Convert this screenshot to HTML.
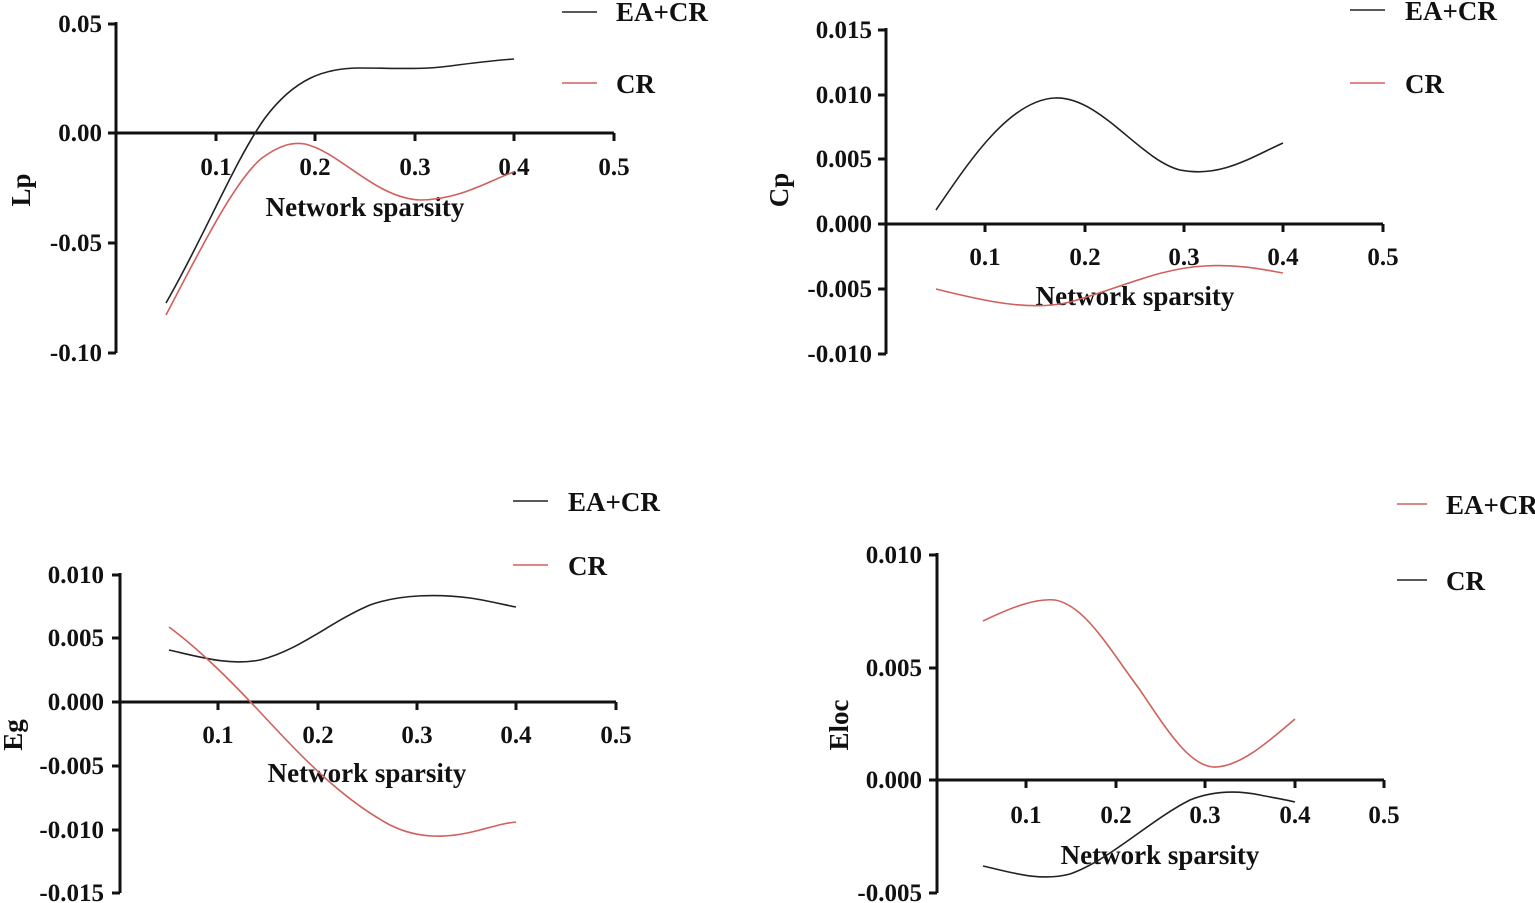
<!DOCTYPE html>
<html><head><meta charset="utf-8"><style>
html,body{margin:0;padding:0;background:#fff}
svg{display:block}
text{font-family:"Liberation Serif",serif;font-weight:bold;fill:#111}
.t{font-size:25px}
.n{font-size:27px}
.lg{font-size:27px}
.ax{stroke:#111;stroke-width:3;fill:none}
.k{stroke:#222;stroke-width:1.6;fill:none}
.r{stroke:#d0605c;stroke-width:1.6;fill:none}
</style></head><body>
<svg width="1535" height="903" viewBox="0 0 1535 903">
<!-- Panel 1 -->
<path class="ax" d="M116 22V353M108 24H116M108 133H116M108 243H116M108 353H116M116 133H614M216 133v8M315 133v8M415 133v8M514 133v8M614 133v8"/>
<g class="t" text-anchor="end"><text x="102" y="32">0.05</text><text x="102" y="141">0.00</text><text x="102" y="251">-0.05</text><text x="102" y="361">-0.10</text></g>
<g class="t" text-anchor="middle"><text x="216" y="175">0.1</text><text x="315" y="175">0.2</text><text x="415" y="175">0.3</text><text x="514" y="175">0.4</text><text x="614" y="175">0.5</text>
<text x="365" y="216" class="n">Network sparsity</text></g>
<text x="30" y="190" class="n" transform="rotate(-90 30 190)" text-anchor="middle">Lp</text>
<path class="k" d="M166 303C205 235 235 160 265 118C295 78 325 68 360 68C395 68 420 70 450 66C480 62 500 60 514 59"/>
<path class="r" d="M166 315C200 250 235 180 262 158C280 145 292 142 305 144C340 152 375 198 420 200C460 200 490 180 514 172"/>
<path class="k" d="M562 12H597"/><text x="616" y="21" class="lg">EA+CR</text>
<path class="r" d="M562 83H597"/><text x="616" y="93" class="lg">CR</text>
<!-- Panel 2 -->
<path class="ax" d="M886 28V354M878 30H886M878 95H886M878 159H886M878 224H886M878 289H886M878 354H886M886 224H1383M985 224v8M1085 224v8M1184 224v8M1283 224v8M1383 224v8"/>
<g class="t" text-anchor="end"><text x="872" y="38">0.015</text><text x="872" y="103">0.010</text><text x="872" y="167">0.005</text><text x="872" y="232">0.000</text><text x="872" y="297">-0.005</text><text x="872" y="362">-0.010</text></g>
<g class="t" text-anchor="middle"><text x="985" y="265">0.1</text><text x="1085" y="265">0.2</text><text x="1184" y="265">0.3</text><text x="1283" y="265">0.4</text><text x="1383" y="265">0.5</text>
<text x="1135" y="305" class="n">Network sparsity</text></g>
<text x="788" y="190" class="n" transform="rotate(-90 788 190)" text-anchor="middle">Cp</text>
<path class="k" d="M936 210C970 160 1010 100 1055 98C1100 96 1140 160 1180 170C1220 178 1250 158 1283 143"/>
<path class="r" d="M936 289C980 300 1030 312 1070 302C1120 288 1160 268 1205 266C1240 264 1265 270 1283 273"/>
<path class="k" d="M1350 10H1385"/><text x="1405" y="20" class="lg">EA+CR</text>
<path class="r" d="M1350 83H1385"/><text x="1405" y="93" class="lg">CR</text>
<!-- Panel 3 -->
<path class="ax" d="M120 573V893M112 575H120M112 638H120M112 702H120M112 766H120M112 830H120M112 893H120M120 702H616M218 702v8M318 702v8M417 702v8M516 702v8M616 702v8"/>
<g class="t" text-anchor="end"><text x="104" y="583">0.010</text><text x="104" y="646">0.005</text><text x="104" y="710">0.000</text><text x="104" y="774">-0.005</text><text x="104" y="838">-0.010</text><text x="104" y="901">-0.015</text></g>
<g class="t" text-anchor="middle"><text x="218" y="743">0.1</text><text x="318" y="743">0.2</text><text x="417" y="743">0.3</text><text x="516" y="743">0.4</text><text x="616" y="743">0.5</text>
<text x="367" y="782" class="n">Network sparsity</text></g>
<text x="22" y="735" class="n" transform="rotate(-90 22 735)" text-anchor="middle">Eg</text>
<path class="k" d="M169 650C200 657 230 666 260 660C300 650 330 622 370 605C400 594 440 594 470 598C490 601 505 605 516 607"/>
<path class="r" d="M169 627C200 650 230 680 260 712C300 755 340 798 390 825C420 840 450 838 480 830C495 826 505 823 516 822"/>
<path class="k" d="M513 501H548"/><text x="568" y="511" class="lg">EA+CR</text>
<path class="r" d="M513 565H548"/><text x="568" y="575" class="lg">CR</text>
<!-- Panel 4 -->
<path class="ax" d="M937 553V893M929 555H937M929 668H937M929 780H937M929 893H937M937 780H1384M1026 780v8M1116 780v8M1205 780v8M1295 780v8M1384 780v8"/>
<g class="t" text-anchor="end"><text x="922" y="563">0.010</text><text x="922" y="676">0.005</text><text x="922" y="788">0.000</text><text x="922" y="901">-0.005</text></g>
<g class="t" text-anchor="middle"><text x="1026" y="823">0.1</text><text x="1116" y="823">0.2</text><text x="1205" y="823">0.3</text><text x="1295" y="823">0.4</text><text x="1384" y="823">0.5</text>
<text x="1160" y="864" class="n">Network sparsity</text></g>
<text x="848" y="725" class="n" transform="rotate(-90 848 725)" text-anchor="middle">Eloc</text>
<path class="r" d="M983 621C1010 608 1035 598 1055 600C1085 605 1110 650 1140 690C1170 735 1190 765 1213 767C1240 768 1270 740 1295 719"/>
<path class="k" d="M983 866C1010 872 1040 882 1070 874C1110 860 1150 820 1190 800C1215 790 1240 791 1260 795C1275 798 1287 800 1295 802"/>
<path class="r" d="M1397 504H1427"/><text x="1446" y="514" class="lg">EA+CR</text>
<path class="k" d="M1397 580H1427"/><text x="1446" y="590" class="lg">CR</text>
</svg>
</body></html>
